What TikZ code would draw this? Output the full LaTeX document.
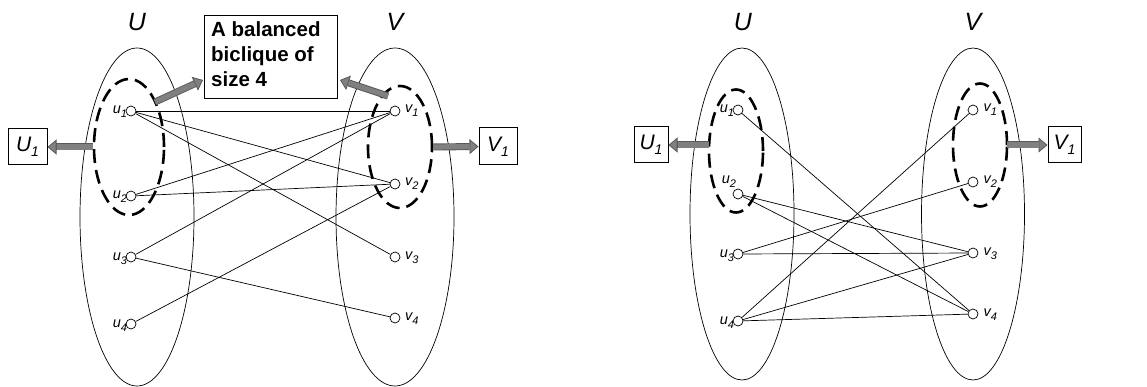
\documentclass[tikz,border=0pt]{standalone}
\usepackage{fontspec}
\setmainfont{Liberation Sans}
\usetikzlibrary{shapes.geometric,arrows.meta,calc}
\tikzset{
  vtx/.style={circle,draw,fill=white,minimum size=10pt,inner sep=0pt,line width=0.7pt},
  bigell/.style={ellipse,draw,line width=0.7pt,inner sep=0pt},
  dashell/.style={ellipse,draw,line width=2.6pt,dash pattern=on 14pt off 7pt,inner sep=0pt},
  setlab/.style={font=\fontsize{25}{25}\selectfont\itshape,inner sep=0pt},
  vlab/.style={font=\fontsize{14.5}{14.5}\selectfont\itshape,inner sep=0pt},
  boxn/.style={draw,line width=1pt,inner sep=0pt,font=\fontsize{21}{21}\selectfont\itshape},
  edge/.style={line width=0.7pt},
  barbase/.style={line width=7pt,draw=black!65,-{Triangle[length=9pt,width=15pt,line width=0.8pt,color=black!65,fill=gray]}},
  bartop/.style={line width=5.2pt,draw=gray,shorten >=9pt},
}
\newcommand\barrow[2]{\draw[barbase] (#1) -- (#2); \draw[bartop] (#1) -- (#2);}
\newcommand\sub[2]{\textit{#1}\raisebox{-4pt}{\fontsize{11}{11}\selectfont\itshape #2}}
\newcommand\bsub[2]{\textit{#1}\raisebox{-5pt}{\fontsize{14}{14}\selectfont\itshape #2}}
\begin{document}
\begin{tikzpicture}[x=1pt,y=-1pt]
\useasboundingbox (0,0) rectangle (1147,387);
% ---------------- left panel ----------------
\node[bigell,minimum width=114pt,minimum height=338pt] (UL) at (137,217) {};
\node[bigell,minimum width=118pt,minimum height=338pt] (VL) at (395,217) {};
\node[setlab] (ULt) at (137,22) {U};
\node[setlab] (VLt) at (395,22) {V};
\node[dashell,minimum width=70pt,minimum height=136pt] (U1L) at (129,147) {};
\node[dashell,minimum width=64pt,minimum height=122pt] (V1L) at (400,147) {};
\foreach \i/\y in {1/111,2/196,3/257,4/324}{
  \node[vtx] (lu\i) at (131,\y) {};
  \node[vlab,anchor=base east] (lul\i) at ($(lu\i.west)+(1.5,3)$) {\sub{u}{\i}};
}
\foreach \i/\y in {1/111,2/184,3/257,4/318}{
  \node[vtx] (lv\i) at (395,\y) {};
  \node[vlab,anchor=base west] (lvl\i) at ($(lv\i.east)+(4.5,2)$) {\sub{v}{\i}};
}
\foreach \a/\b in {1/1,1/2,1/3,2/1,2/2,3/1,3/4,4/2}{
  \draw[edge] (lu\a) -- (lv\b);
}
\node[boxn,minimum width=39pt,minimum height=36pt] (U1Lb) at (27.5,147) {\bsub{U}{1}};
\node[boxn,minimum width=38pt,minimum height=37pt] (V1Lb) at (498,146.5) {\bsub{V}{1}};
\node[draw,line width=1pt,minimum width=133pt,minimum height=83pt,inner sep=0pt] (bic) at (270.5,57.5) {};
\node[anchor=north west,align=left,inner sep=0pt,font=\fontsize{20.5}{25}\selectfont\bfseries] (bict) at (211,21) {A balanced\\biclique of\\size 4};
\coordinate (a1s) at (155,102);
\coordinate (a1e) at (203,80);
\coordinate (a2s) at (388,96);
\coordinate (a2e) at (340,80);
\barrow{a1s}{a1e}
\barrow{a2s}{a2e}
\barrow{U1L.west}{U1Lb.east}
\barrow{V1L.east}{V1Lb.west}
% ---------------- right panel ----------------
\node[bigell,minimum width=104pt,minimum height=332pt] (UR) at (742,214) {};
\node[bigell,minimum width=103pt,minimum height=332pt] (VR) at (973,214) {};
\node[setlab] (URt) at (743,22) {U};
\node[setlab] (VRt) at (973,22) {V};
\node[dashell,minimum width=54pt,minimum height=123pt] (U1R) at (736,151) {};
\node[dashell,minimum width=54pt,minimum height=123pt] (V1R) at (980,145) {};
\foreach \i/\y in {1/110,2/194,3/254,4/321}{
  \node[vtx] (ru\i) at (738,\y) {};
}
\node[vlab,anchor=base east] (rul1) at ($(ru1.west)+(1.5,3)$) {\sub{u}{1}};
\node[vlab,anchor=base east] (rul2) at ($(ru2.north west)+(2,-7)$) {\sub{u}{2}};
\node[vlab,anchor=base east] (rul3) at ($(ru3.west)+(1.5,3)$) {\sub{u}{3}};
\node[vlab,anchor=base east] (rul4) at ($(ru4.west)+(1.5,3)$) {\sub{u}{4}};
\foreach \i/\y in {1/110,2/182,3/253,4/314}{
  \node[vtx] (rv\i) at (973,\y) {};
  \node[vlab,anchor=base west] (rvl\i) at ($(rv\i.east)+(5,2)$) {\sub{v}{\i}};
}
\foreach \a/\b in {1/4,2/3,2/4,3/2,3/3,4/1,4/3,4/4}{
  \draw[edge] (ru\a) -- (rv\b);
}
\node[boxn,minimum width=34pt,minimum height=36pt] (U1Rb) at (651,145) {\bsub{U}{1}};
\node[boxn,minimum width=33pt,minimum height=36pt] (V1Rb) at (1064.5,145) {\bsub{V}{1}};
\coordinate (r1s) at (709,145);
\coordinate (r2s) at (1007,145);
\barrow{r1s}{U1Rb.east}
\barrow{r2s}{V1Rb.west}
\end{tikzpicture}
\end{document}
